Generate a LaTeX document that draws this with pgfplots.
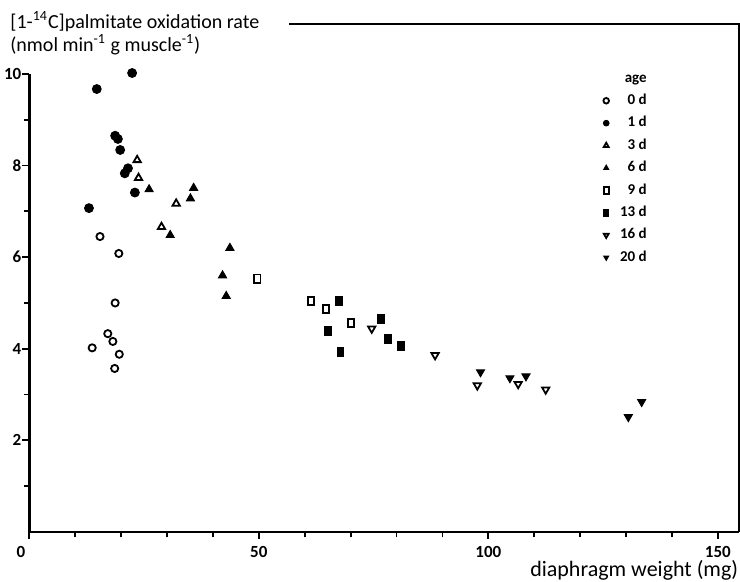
\documentclass[border=0pt]{standalone}
\usepackage{pgfplots}
\pgfplotsset{compat=1.18}
\usepackage{fontspec}
\setmainfont{Carlito}
\begin{document}
\begin{tikzpicture}
\path[use as bounding box] (-14.65pt,-25pt) rectangle (355.35pt,266pt);
\begin{axis}[
  scale only axis, width=354.6pt, height=254pt,
  xmin=0, xmax=154.5, ymin=0, ymax=11.09,
  axis line style={draw=none},
  clip=false,
  xtick={0,50,100,150}, xticklabels={\llap{0\kern2pt},50,100,150},
  minor xtick={10,20,30,40,60,70,80,90,110,120,130,140},
  ytick={2,4,6,8,10}, minor ytick={1,3,5,7,9},
  xtick pos=left, ytick pos=left, tick align=outside,
  major tick length=3.5pt, minor tick length=2.7pt,
  tick style={black, line width=0.9pt},
  tick label style={font=\bfseries\fontsize{8.5}{10}\selectfont},
  yticklabel style={inner sep=0pt, xshift=-0.3pt},
  /pgf/number format/assume math mode=true,
  xlabel={diaphragm weight (mg)},
  xlabel style={at={(rel axis cs:1,0)}, anchor=north east, yshift=-14pt, inner sep=0pt, font=\fontsize{11}{13}\selectfont},
  legend style={at={(axis cs:134.8,10.08)}, anchor=north east, draw=none, fill=none, inner sep=0pt,
    font=\bfseries\fontsize{7.5}{9}\selectfont, row sep=3.5pt,
    nodes={inner sep=0.5pt, text height=5.2pt, text depth=1.5pt},
    /tikz/every odd column/.append style={column sep=5pt}},
  legend cell align=right,
  legend image post style={mark size=1.4pt},
]
\addlegendimage{empty legend}\addlegendentry{age}
\addplot[only marks, mark=o, mark size=1.8pt, mark options={line width=0.9pt}] coordinates {
(15.4,6.45)(19.5,6.08)(18.7,5.00)(17.1,4.33)(18.2,4.16)(13.7,4.02)(19.6,3.88)(18.6,3.57)};
\addlegendentry{0 d}
\addplot[only marks, mark=*, mark size=2.2pt, mark options={line width=0.5pt}] coordinates {
(14.7,9.67)(22.4,10.02)(18.7,8.65)(19.3,8.58)(19.8,8.34)(21.5,7.94)(20.8,7.83)(23.0,7.41)(13.0,7.07)};
\addlegendentry{1 d}
\addplot[only marks, mark=triangle, mark size=2.1pt, mark options={line width=0.9pt}] coordinates {
(23.5,8.12)(23.8,7.73)(32.0,7.17)(28.8,6.66)};
\addlegendentry{3 d}
\addplot[only marks, mark=triangle*, mark size=2.3pt, mark options={line width=0.5pt}] coordinates {
(26.1,7.48)(35.8,7.51)(35.1,7.28)(30.7,6.48)(43.7,6.20)(42.1,5.60)(42.9,5.15)};
\addlegendentry{6 d}
\addplot[only marks, mark=square, mark size=1.7pt, mark options={line width=0.9pt, yscale=1.2, xscale=0.9}] coordinates {
(49.7,5.53)(61.4,5.04)(64.6,4.87)(70.1,4.56)};
\addlegendentry{9 d}
\addplot[only marks, mark=square*, mark size=1.9pt, mark options={line width=0.5pt, yscale=1.2, xscale=0.9}] coordinates {
(67.4,5.05)(65.1,4.38)(67.8,3.93)(76.6,4.65)(78.1,4.22)(80.9,4.06)};
\addlegendentry{13 d}
\addplot[only marks, mark=triangle, mark size=2.1pt, mark options={line width=0.9pt, rotate=180}] coordinates {
(74.6,4.44)(88.4,3.86)(97.6,3.20)(106.5,3.23)(112.5,3.11)};
\addlegendentry{16 d}
\addplot[only marks, mark=triangle*, mark size=2.3pt, mark options={line width=0.5pt, rotate=180}] coordinates {
(98.3,3.49)(104.7,3.36)(108.2,3.40)(133.4,2.84)(130.5,2.51)};
\addlegendentry{20 d}
\draw[line width=1.3pt] (axis cs:0,10) -- (axis cs:0,0) -- (axis cs:154.5,0);
\draw[line width=1pt] (axis cs:154.5,0) -- (axis cs:154.5,11.09) -- (axis cs:56.5,11.09);
\node[anchor=base west, font=\fontsize{10}{12}\selectfont, inner sep=0pt] at (axis cs:-4.2,11.0) {[1-\textsuperscript{14}C]palmitate oxidation rate};
\node[anchor=base west, font=\fontsize{10}{12}\selectfont, inner sep=0pt] at (axis cs:-4.2,10.5) {(nmol min\textsuperscript{-1} g muscle\textsuperscript{-1})};
\end{axis}
\end{tikzpicture}
\end{document}
